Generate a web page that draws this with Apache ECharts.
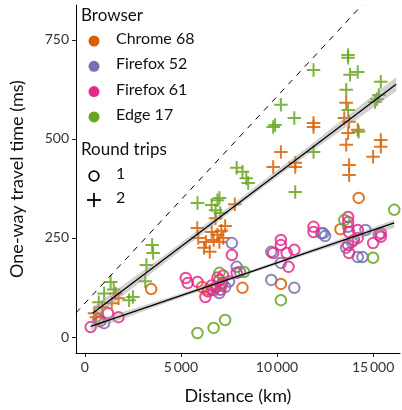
<!DOCTYPE html>
<html>
<head>
<meta charset="utf-8">
<script src="https://cdn.jsdelivr.net/npm/echarts@6/dist/echarts.min.js"></script>
<style>
html,body{margin:0;padding:0;background:#fff;}
#c{width:402px;height:410px;}
</style>
</head>
<body>
<div id="c"></div>
<script>
// ---- data (distance km, one-way travel time ms) ----
var chrome1 = [[3450,121],[6100,126],[6400,119],[8200,124],[10200,134],[13300,272],[14250,351],[7100,130],[6600,120]];
var firefox52 = [[700,45],[1000,35],[7650,237],[7900,177],[8070,164],[7000,111],[7300,126],[6700,118],[7500,140],
  [9700,215],[10200,187],[9700,144],[10900,124],[12300,262],[12500,255],
  [12400,262],[13700,278],[14200,202],[14450,202],[13600,225],[15300,258],[13900,240],[14600,270]];
var firefox61 = [[300,25],[800,40],[1200,60],[1750,50],
  [5250,149],[5350,136],[5860,139],[6270,101],[6800,126],[7000,144],[7150,136],[7050,119],[7650,207],[7900,162],[6600,130],[6900,150],[6400,115],[7200,155],
  [10200,245],[9800,212],[10500,212],[10900,220],[10600,177],[11900,278],[11900,265],[10200,232],
  [13700,303],[13700,290],[13750,265],[14200,270],[14200,250],[13700,232],[13750,212],[15000,237],[15400,253],[15400,262],[14000,245]];
var edge1 = [[5860,10],[6700,23],[7300,43],[7000,162],[8280,164],[10200,93],[16100,321],[15000,200],[13500,295]];
var chrome2 = [[500,60],[900,75],[1400,85],[1600,110],[1750,98],[600,50],
  [5850,275],[6200,225],[6500,215],[6700,245],[6900,258],[7100,268],[7300,280],[6800,300],[7000,240],[6300,240],[7800,335],[6600,265],[7200,250],[5900,250],
  [11900,540],[11900,530],[10200,467],[9800,429],[10950,429],[10950,440],
  [13600,591],[13500,553],[13750,543],[14200,523],[13700,515],[13600,485],[15400,497],[15400,480],[15000,455],[13750,434],[13750,409]];
var edge2 = [[720,88],[1340,139],[1500,120],[2300,93],[2500,101],[3500,232],[3550,212],[3200,182],[3140,141],[1000,110],
  [5860,338],[6600,333],[7000,351],[6800,320],[7050,313],[8500,389],[7900,427],[8200,417],[8400,401],[6900,345],
  [11900,674],[10200,586],[10900,553],[9800,530],[11900,467],[10950,366],[9900,535],
  [13700,712],[13700,705],[14200,669],[13800,662],[13600,624],[15400,644],[15300,611],[15100,593],[13700,573],[14250,518],[15200,600]];

// fitted lines and their confidence bands [x, low, high]
var fit1 = [[300,27],[16100,288]];
var fit2 = [[400,60],[16200,638]];
var band1 = [[300,16,38],[4000,82,94],[8000,150,158],[12000,215,225],[16100,276,296]];
var band2 = [[400,44,76],[4000,181,201],[8000,331,347],[12000,475,495],[16200,620,656]];
var dashedRef = [[-463,61],[14425,838]];

var xTicks = [0,5000,10000,15000];
var yTicks = [0,250,500,750];
var browsers = ['Chrome 68','Firefox 52','Firefox 61','Edge 17'];
var colors = ['#D95F02','#7570B3','#E7298A','#66A61E'];
var roundTrips = ['1','2'];

var FONT = 'Lato';
var plusPath = 'path://M5,0L5,10M0,5L10,5';

function circleSeries(data, col, z){
  return {type:'scatter', data:data, symbol:'circle', symbolSize:10.5, z:z, silent:true,
    itemStyle:{color:'rgba(0,0,0,0)', borderColor:col, borderWidth:2, opacity:0.85}};
}
function plusSeries(data, col, z){
  return {type:'scatter', data:data, symbol:plusPath, symbolSize:13.5, z:z, silent:true,
    itemStyle:{color:'rgba(0,0,0,0)', borderColor:col, borderWidth:2, opacity:0.85}};
}
function bandSeries(band){
  return {type:'custom', z:10, silent:true, data:[0],
    renderItem:function(params, api){
      var pts = [];
      for (var i=0;i<band.length;i++) pts.push(api.coord([band[i][0], band[i][2]]));
      for (var j=band.length-1;j>=0;j--) pts.push(api.coord([band[j][0], band[j][1]]));
      return {type:'polygon', shape:{points:pts}, style:{fill:'rgba(153,153,153,0.45)'}};
    }};
}
function lineSeries(data, dashed){
  return {type:'line', data:data, symbol:'none', z:11, silent:true,
    lineStyle:{color:'#000', width: dashed?1:1.3, type: dashed?[6,6]:'solid'}};
}

var fmt = function(v){ return String(v).replace(/\B(?=(\d{3})+(?!\d))/g, '\u2009'); };

var axisCommon = {
  splitLine:{show:false},
  axisLine:{show:true, onZero:false, lineStyle:{color:'#000', width:1}},
  nameTextStyle:{fontFamily:FONT, fontSize:18, color:'#111'}
};

var chart = echarts.init(document.getElementById('c'), null, {renderer:'canvas'});
var legendEls = [];
legendEls.push({type:'text', left:81, top:7, style:{text:'Browser', font:'17px '+FONT, fill:'#111'}});
for (var i=0;i<browsers.length;i++){
  var cy = 41 + i*25.3;
  legendEls.push({type:'circle', shape:{cx:94, cy:cy, r:5.5}, style:{fill:colors[i]}});
  legendEls.push({type:'text', left:116, top:cy-10, style:{text:browsers[i], font:'16px '+FONT, fill:'#111'}});
}
legendEls.push({type:'text', left:81, top:141, style:{text:'Round trips', font:'17px '+FONT, fill:'#111'}});
legendEls.push({type:'circle', shape:{cx:94, cy:176, r:4.8}, style:{fill:'none', stroke:'#000', lineWidth:1.8}});
legendEls.push({type:'text', left:116, top:166, style:{text:roundTrips[0], font:'16px '+FONT, fill:'#111'}});
legendEls.push({type:'polyline', shape:{points:[[94,193],[94,207]]}, style:{stroke:'#000', lineWidth:1.8}});
legendEls.push({type:'polyline', shape:{points:[[87,200],[101,200]]}, style:{stroke:'#000', lineWidth:1.8}});
legendEls.push({type:'text', left:116, top:190, style:{text:roundTrips[1], font:'16px '+FONT, fill:'#111'}});

chart.setOption({
  animation:false,
  backgroundColor:'#fff',
  grid:{left:72, right:2, top:5, bottom:57, containLabel:false},
  xAxis:Object.assign({type:'value', min:-463, max:16400,
    name:'Distance (km)', nameLocation:'middle', nameGap:34,
    axisTick:{show:true, length:4, customValues:xTicks, lineStyle:{color:'#222'}},
    axisLabel:{customValues:xTicks, formatter:fmt, fontFamily:FONT, fontSize:14, color:'#333', margin:7}
  }, axisCommon),
  yAxis:Object.assign({type:'value', min:-40.4, max:838,
    name:'One-way travel time (ms)', nameLocation:'middle', nameGap:50,
    axisTick:{show:true, length:4, customValues:yTicks, lineStyle:{color:'#222'}},
    axisLabel:{customValues:yTicks, formatter:fmt, fontFamily:FONT, fontSize:14, color:'#333', margin:7}
  }, axisCommon),
  graphic:legendEls,
  series:[
    circleSeries(chrome1, colors[0], 2),
    circleSeries(firefox52, colors[1], 2),
    circleSeries(firefox61, colors[2], 2),
    circleSeries(edge1, colors[3], 2),
    plusSeries(chrome2, colors[0], 3),
    plusSeries(edge2, colors[3], 3),
    bandSeries(band1),
    bandSeries(band2),
    lineSeries(fit1, false),
    lineSeries(fit2, false),
    lineSeries(dashedRef, true)
  ]
});
</script>
</body>
</html>
